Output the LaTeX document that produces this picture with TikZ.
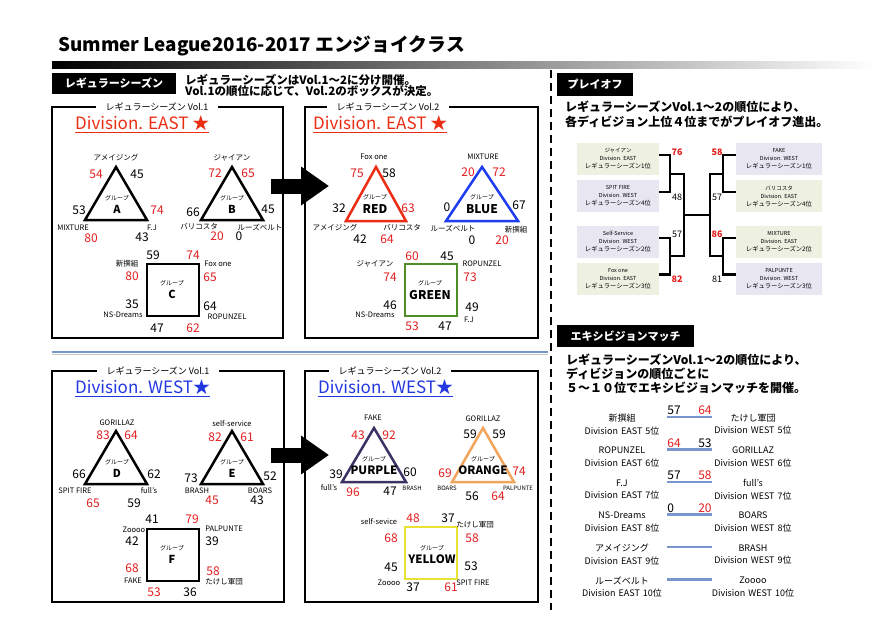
\documentclass[tikz,border=0pt]{standalone}
\usepackage{fontspec}
\setmainfont{Noto Sans CJK JP}
\usepackage{xcolor}
\usetikzlibrary{arrows.meta, positioning, calc}
\newcommand{\fsz}[1]{\fontsize{#1}{#1}\selectfont}
\definecolor{rd}{RGB}{228,30,30}
\definecolor{wblue}{RGB}{35,55,225}
\definecolor{tgreen}{RGB}{80,140,40}
\definecolor{tblue}{RGB}{30,60,240}
\definecolor{tred}{RGB}{235,45,20}
\definecolor{tpurple}{RGB}{60,50,100}
\definecolor{torange}{RGB}{240,165,90}
\definecolor{tyellow}{RGB}{232,226,50}
\definecolor{pg}{RGB}{238,240,226}
\definecolor{pl}{RGB}{232,230,241}
\definecolor{barc}{RGB}{120,150,205}

\begin{document}
\begin{tikzpicture}[x=1pt, y=-1pt,
        num/.style={font=\fsz{12}, inner sep=0},
        tm/.style={inner sep=0},
        gp/.style={font=\fsz{6}, inner sep=0},
        boxf/.style={line width=2.5pt},
        ftitle/.style={fill=white, font=\fsz{9}, inner xsep=10pt, inner ysep=2pt},
        div/.style={font=\fsz{17}, anchor=west, inner sep=0},
        tri/.style={line width=2.5pt, line join=miter},
        hd/.style={fill=black, text=white, font=\bfseries\fsz{11}, inner sep=0},
        desc/.style={font=\bfseries\fontsize{11.5}{11.5}\selectfont, anchor=west, align=left, inner sep=0},
        big/.style={line width=15pt, -{Triangle[length=28pt, width=37pt]}},
        pbox/.style={minimum height=32pt, align=center, inner sep=0, font=\fontsize{5.5}{8}\selectfont},
        br/.style={line width=2.3pt},
        ps/.style={font=\fsz{9}, inner sep=0},
        pr/.style={font=\bfseries\fsz{9}, text=rd, inner sep=0},
        ex/.style={text width=84pt, align=center, inner sep=0, font=\fontsize{9}{12.5}\selectfont},
        bar/.style={barc, line width=2.5pt}]
        \fill[white] (0,0) rectangle (890,629);
        \useasboundingbox (0,0) rectangle (890,629);

        \node[anchor=west, font=\bfseries\fsz{18.8}, inner sep=0] (title) at (58,46) {Summer League2016-2017 エンジョイクラス};
        \shade[left color=black, right color=white] (52,61) rectangle (875,68);
        \draw[line width=2.5pt, dash pattern=on 8pt off 5pt] (551,70) -- (551,610);
        \draw[gray!45, line width=1pt] (52,354) -- (548,354);
        \draw[barc, line width=2pt] (52,352) -- (548,352);

        \node[hd, minimum width=124pt, minimum height=21pt] (h1) at (114,83.5) {レギュラーシーズン};
        \node[desc] (d1) at (185,85.5) {レギュラーシーズンはVol.1～2に分け開催。\\Vol.1の順位に応じて、Vol.2のボックスが決定。};

        \foreach \x/\y/\z/\w in {52/107/283/338, 305/107/538/338, 52/371/284/602, 305/371/538/602}
        \draw[boxf] (\x,\y) rectangle (\z,\w);
        \foreach \x/\y/\z [count=\i] in {157/107/1, 388/107/2, 158/371/1, 390/371/2}
        \node[ftitle] (ft\i) at (\x,\y) {レギュラーシーズン Vol.\z};

        \node[div, text=tred] (dv1) at (75,124) {\underline{Division. EAST ★}};
        \node[div, text=tred] (dv2) at (313,124) {\underline{Division. EAST ★}};
        \node[div, text=wblue] (dv3) at (75,388) {\underline{Division. WEST★}};
        \node[div, text=wblue] (dv4) at (318,388) {\underline{Division. WEST★}};

        \foreach \x/\y/\h/\w/\c in {116/167/31/53/black, 232/167/31/53/black, 376/167/30/54/tred, 482/167/36/54/tblue,
            116/431/31/53/black, 232/431/31/53/black, 374/428/32/54/tpurple, 483/428/31/54/torange}
        \draw[tri, \c] (\x,\y) -- ++(-\h,\w) -- ++(2*\h,0) -- cycle;
        \foreach \x/\y/\c in {147/264/black, 405/264/tgreen, 147/529/black, 405/527/tyellow}
        \draw[tri, \c] (\x,\y) rectangle ++(52,52);

        \foreach \x/\y/\z/\s [count=\i] in {117/198/A/11, 232/198/B/11, 172/283/C/11, 375/197/RED/12, 482/197/BLUE/12, 430/283/GREEN/12,
            117/462/D/11, 232/462/E/11, 172/548/F/11, 374/459/PURPLE/11.5, 483/459/ORANGE/11.5, 432/548/YELLOW/11.5}
        \draw node[gp] (g\i) at (\x,\y) {グループ} node[tm, font=\bfseries\fsz{\s}, below=4pt of g\i] (gn\i) {\z};

        \coordinate (a1) at (271,186); \coordinate (a2) at (329,186);
        \coordinate (a3) at (271,455); \coordinate (a4) at (329,455);
        \draw[big] (a1) -- (a2);
        \draw[big] (a3) -- (a4);

        \foreach \x/\y/\z/\w [count=\i] in {96/174/54/rd, 137/174/45/black, 79/210/53/black, 157/210/74/rd, 91/238/80/rd, 142/237/43/black,
            215/173/72/rd, 248/173/65/rd, 193/212/66/black, 268/209/45/black, 217/236/20/rd, 239/236/0/black,
            153/255/59/black, 193/255/74/rd, 132/276/80/rd, 210/277/65/rd, 132/304/35/black, 210/306/64/black, 157/328/47/black, 193/328/62/rd}
        \node[num, text=\w] (ea\i) at (\x,\y) {\z};
        \foreach \x/\y/\z/\w [count=\i] in {357/173/75/rd, 389/173/58/black, 339/208/32/black, 408/208/63/rd, 360/239/42/black, 387/239/64/rd,
            468/172/20/rd, 499/172/72/rd, 447/207/0/black, 519/205/67/black, 472/240/0/black, 502/240/20/rd,
            412/256/60/rd, 447/256/45/black, 390/277/74/rd, 470/277/73/rd, 390/305/46/black, 472/307/49/black, 412/326/53/rd, 445/326/47/black}
        \node[num, text=\w] (eb\i) at (\x,\y) {\z};
        \foreach \x/\y/\z/\w [count=\i] in {103/435/83/rd, 131/435/64/rd, 79/474/66/black, 154/474/62/black, 93/503/65/rd, 134/503/59/black,
            215/437/82/rd, 247/437/61/rd, 191/478/73/black, 270/476/52/black, 212/500/45/rd, 257/500/43/black,
            152/519/41/black, 192/519/79/rd, 132/541/42/black, 212/541/39/black, 132/568/68/rd, 213/571/58/rd, 154/592/53/rd, 190/592/36/black}
        \node[num, text=\w] (wa\i) at (\x,\y) {\z};
        \foreach \x/\y/\z/\w [count=\i] in {358/435/43/rd, 389/435/92/rd, 336/474/39/black, 410/472/60/black, 353/492/96/rd, 390/491/47/black,
            470/434/59/black, 499/434/59/black, 445/473/69/rd, 519/471/74/rd, 472/496/56/black, 498/496/64/rd,
            413/518/48/rd, 448/518/37/black, 391/538/68/rd, 472/538/58/rd, 391/567/45/black, 471/566/53/black, 413/587/37/black, 451/587/61/rd}
        \node[num, text=\w] (wb\i) at (\x,\y) {\z};

        \foreach \x/\y/\z/\s [count=\i] in {116/158/アメイジング/7.5, 73/228/MIXTURE/7.5, 152/228/F.J/7.5, 232/158/ジャイアン/7.5, 199/227/バリコスタ/7.5,
            260/227/ルーズベルト/7.5, 127/264/新撰組/7.5, 218/264/Fox one/7.5, 123/315/NS-Dreams/7.5, 227/317/ROPUNZEL/7.5,
            374/157/Fox one/7.5, 335/228/アメイジング/7.5, 402/228/バリコスタ/7.5, 483/157/MIXTURE/7.5, 453/228/ルーズベルト/7.5,
            516/230/新撰組/7.5, 375/264/ジャイアン/7.5, 482/264/ROPUNZEL/7.5, 375/315/NS-Dreams/7.5, 469/320/F.J/7.5,
            117/423/GORILLAZ/7.5, 75/491/SPIT FIRE/7.5, 149/491/full’s/7.5, 232/424/self-service/7.5, 197/491/BRASH/7.5,
            260/491/BOARS/7.5, 134/530/Zoooo/7.5, 224/529/PALPUNTE/7.5, 133/581/FAKE/7.5, 224/582/たけし軍団/7.5,
            373/418/FAKE/7.5, 329/488/full’s/7.5, 412/488/BRASH/6, 483/419/GORILLAZ/7.5, 447/488/BOARS/6,
            518/488/PALPUNTE/6, 379/522/self-sevice/7.5, 475/525/たけし軍団/7.5, 389/583/Zoooo/7.5, 473/583/SPIT FIRE/7.5}
        \node[tm, font=\fsz{\s}] (t\i) at (\x,\y) {\z};

        \node[hd, minimum width=76pt, minimum height=23pt] (h2) at (595,84.5) {プレイオフ};
        \node[desc, font=\bfseries\fontsize{12}{15}\selectfont] (d2) at (565,114.5) {レギュラーシーズンVol.1～2の順位により、\\各ディビジョン上位４位までがプレイオフ進出。};

        \foreach \x/\y/\w/\n/\d/\r/\f [count=\i] in {618/159/82/ジャイアン/EAST/1/pg, 618/196/82/SPIT FIRE/WEST/4/pl,
            618/242/82/Self-Service/WEST/2/pl, 618/278.5/82/Fox one/EAST/3/pg, 779/159/86/FAKE/WEST/1/pl,
            779/196/86/バリコスタ/EAST/4/pg, 779/242/86/MIXTURE/EAST/2/pg, 779/278.5/86/PALPUNTE/WEST/3/pl}
        \node[pbox, fill=\f, minimum width=\w pt] (p\i) at (\x,\y) {\n\\Division. \d\\{\fontsize{6.3}{8}\selectfont レギュラーシーズン\r{}位}};

        \coordinate (q1) at (670,174); \coordinate (q2) at (670,256);
        \coordinate (q3) at (723,174); \coordinate (q4) at (723,256);
        \coordinate (m1) at (684,215); \coordinate (m2) at (710,215);
        \draw[br] ([yshift=4pt]p1.east) -| (q1) |- ([yshift=4pt]p2.east);
        \draw[br] ([yshift=4pt]p3.east) -| (q2) |- ([yshift=4pt]p4.east);
        \draw[br] ([yshift=4pt]p5.west) -| (q3) |- ([yshift=4pt]p6.west);
        \draw[br] ([yshift=4pt]p7.west) -| (q4) |- ([yshift=4pt]p8.west);
        \draw[br] (q1) -| (m1) |- (q2);
        \draw[br] (q3) -| (m2) |- (q4);
        \draw[br] (m1) -- (m2);

        \foreach \x/\y/\z/\w [count=\i] in {677/152/76/pr, 677/197/48/ps, 677/234/57/ps, 677/279/82/pr,
            717/152/58/pr, 717/197/57/ps, 717/234/86/pr, 717/279/81/ps}
        \node[\w] (s\i) at (\x,\y) {\z};

        \node[hd, minimum width=137pt, minimum height=22pt] (h3) at (625.5,336) {エキシビジョンマッチ};
        \node[desc, font=\bfseries\fontsize{12}{14}\selectfont] (d3) at (566,374) {レギュラーシーズンVol.1～2の順位により、\\ディビジョンの順位ごとに\\５～１０位でエキシビジョンマッチを開催。};

        \foreach \a/\b/\r [evaluate=\r as \y using 418+(\r-5)*32.5] in {新撰組/たけし軍団/5, ROPUNZEL/GORILLAZ/6, F.J/full’s/7,
            NS-Dreams/BOARS/8, アメイジング/BRASH/9, ルーズベルト/Zoooo/10}
        {
        \node[ex] (el\r) at (622,\y+6.5) {\a\\Division EAST \r{}位};
        \node[ex] (er\r) at (753,\y+6.5) {\b\\Division WEST \r{}位};
        \draw[bar] ([xshift=3pt, yshift=7.5pt]el\r.east) coordinate (bl\r) -- ([xshift=1pt, yshift=7.5pt]er\r.west) coordinate (bk\r);
        }
        \foreach \r/\a/\b/\c/\d in {5/57/64/black/rd, 6/64/53/rd/black, 7/57/58/black/rd, 8/0/20/black/rd}
        \draw node[num, text=\c, anchor=south west] (sl\r) at ([yshift=2pt]bl\r) {\a}
              node[num, text=\d, anchor=south east] (sr\r) at ([yshift=2pt]bk\r) {\b};
\end{tikzpicture}
\end{document}
